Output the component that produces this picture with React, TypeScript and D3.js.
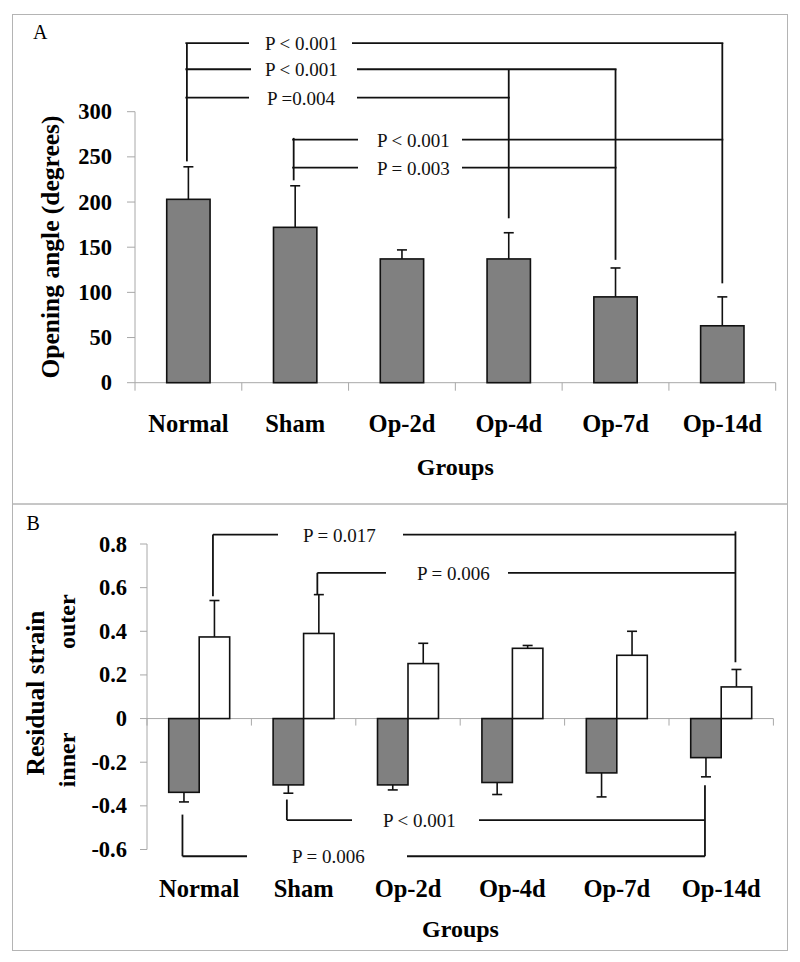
import React from "react";
import * as d3 from "d3";

const groups = ["Normal", "Sham", "Op-2d", "Op-4d", "Op-7d", "Op-14d"];
const angleMean = [203, 172, 137, 137, 95, 63];
const angleErr = [36, 46, 10, 29, 32, 32];
const angleTicks = [0, 50, 100, 150, 200, 250, 300];

const innerMean = [-0.338, -0.304, -0.304, -0.293, -0.249, -0.179];
const innerErr = [0.044, 0.038, 0.023, 0.055, 0.11, 0.088];
const outerMean = [0.374, 0.39, 0.252, 0.322, 0.29, 0.145];
const outerErr = [0.167, 0.178, 0.093, 0.013, 0.11, 0.08];
const strainTicks = [-0.6, -0.4, -0.2, 0, 0.2, 0.4, 0.6, 0.8];

const bracketsA = [
  { from: "Normal", to: "Op-14d", level: 376, label: "P < 0.001", fromTop: 376, fromBottom: 245, toTop: 376, toBottom: 110 },
  { from: "Normal", to: "Op-7d", level: 347, label: "P < 0.001", toTop: 347, toBottom: 136 },
  { from: "Normal", to: "Op-4d", level: 315.5, label: "P =0.004", toTop: 347, toBottom: 182 },
  { from: "Sham", to: "Op-14d", level: 269, label: "P < 0.001", fromTop: 271, fromBottom: 224 },
  { from: "Sham", to: "Op-7d", level: 238, label: "P = 0.003" },
];
const bracketsB = [
  { from: "Normal", to: "Op-14d", series: "outer", level: 0.843, label: "P = 0.017", fromTop: 0.843, fromBottom: 0.56, toTop: 0.858, toBottom: 0.258 },
  { from: "Sham", to: "Op-14d", series: "outer", level: 0.668, label: "P = 0.006", fromTop: 0.668, fromBottom: 0.568 },
  { from: "Sham", to: "Op-14d", series: "inner", level: -0.465, label: "P < 0.001", fromTop: -0.371, fromBottom: -0.465, toTop: -0.306, toBottom: -0.631 },
  { from: "Normal", to: "Op-14d", series: "inner", level: -0.631, label: "P = 0.006", fromTop: -0.44, fromBottom: -0.631 },
];

// label layout (pixel gap positions)
const layoutA = [
  { gapL: 249, textX: 265, gapR: 352 },
  { gapL: 251, textX: 265, gapR: 357 },
  { gapL: 249, textX: 267, gapR: 357 },
  { gapL: 358, textX: 377, gapR: 462 },
  { gapL: 358, textX: 377, gapR: 462 },
];
const layoutB = [
  { gapL: 278, textX: 303, gapR: 403 },
  { gapL: 386, textX: 417, gapR: 508 },
  { gapL: 352, textX: 383, gapR: 479 },
  { gapL: 247, textX: 292, gapR: 407 },
];

const SERIF = '"Liberation Serif", "Times New Roman", serif';
const AXIS = "#a8a8a8";
const INK = "#111";

export default function App() {
  // Panel A scales
  const xA = d3.scaleBand().domain(groups).range([135, 775.7]);
  const yA = d3.scaleLinear().domain([0, 300]).range([382.7, 111.7]);
  const bwA = xA.bandwidth() * 0.406;
  const cA = (g: string) => (xA(g) as number) + xA.bandwidth() / 2;

  // Panel B scales
  const xB = d3.scaleBand().domain(groups).range([147, 773.4]);
  const yB = d3.scaleLinear().domain([-0.6, 0.8]).range([849.5, 544]);
  const bwB = xB.bandwidth() * 0.292;
  const cB = (g: string, s: string) =>
    (xB(g) as number) + xB.bandwidth() / 2 + (s === "outer" ? bwB / 2 : -bwB / 2);

  const capW = 10;

  return (
    <svg
      width={800}
      height={962}
      style={{ position: "absolute", left: 0, top: 0, background: "#fff" }}
      fontFamily={SERIF}
    >
      <rect x={0} y={0} width={800} height={962} fill="#fff" />
      {/* frames */}
      <rect x={12.5} y={14.5} width={775} height={489.5} fill="none" stroke="#b4b4b4" strokeWidth={1} />
      <rect x={12.5} y={504} width={775} height={446.5} fill="none" stroke="#b4b4b4" strokeWidth={1} />

      {/* ===== Panel A ===== */}
      <text x={33} y={38.5} fontSize={20}>A</text>
      {/* y axis */}
      <line x1={135} x2={135} y1={yA(300)} y2={yA(0)} stroke={AXIS} />
      {angleTicks.map((t) => (
        <g key={"ta" + t}>
          <line x1={127} x2={135} y1={yA(t)} y2={yA(t)} stroke={AXIS} />
          <text x={112} y={yA(t) + 7.5} fontSize={22.5} fontWeight="bold" textAnchor="end">{t}</text>
        </g>
      ))}
      <text
        transform={`translate(58.5,247) rotate(-90)`}
        fontSize={25.5}
        fontWeight="bold"
        textAnchor="middle"
      >
        Opening angle (degrees)
      </text>
      {/* x axis */}
      <line x1={135} x2={775.7} y1={yA(0)} y2={yA(0)} stroke={AXIS} />
      {[...groups.map((g) => xA(g) as number), 775.7].map((x, i) => (
        <line key={"xa" + i} x1={x} x2={x} y1={yA(0)} y2={yA(0) + 8} stroke={AXIS} />
      ))}
      {groups.map((g) => (
        <text key={"la" + g} x={cA(g)} y={432} fontSize={24.5} fontWeight="bold" textAnchor="middle">{g}</text>
      ))}
      <text x={455.3} y={475} fontSize={24} fontWeight="bold" textAnchor="middle">Groups</text>
      {/* bars */}
      {groups.map((g, i) => (
        <g key={"ba" + g}>
          <line x1={cA(g)} x2={cA(g)} y1={yA(angleMean[i])} y2={yA(angleMean[i] + angleErr[i])} stroke={INK} strokeWidth={1.6} />
          <line x1={cA(g) - capW / 2} x2={cA(g) + capW / 2} y1={yA(angleMean[i] + angleErr[i])} y2={yA(angleMean[i] + angleErr[i])} stroke={INK} strokeWidth={1.6} />
          <rect
            x={cA(g) - bwA / 2}
            y={yA(angleMean[i])}
            width={bwA}
            height={yA(0) - yA(angleMean[i])}
            fill="#808080"
            stroke={INK}
            strokeWidth={1.6}
          />
        </g>
      ))}
      {/* brackets A */}
      {bracketsA.map((b, i) => {
        const L = layoutA[i];
        const y = yA(b.level);
        const x0 = cA(b.from) - 1.5;
        const x1 = cA(b.to);
        return (
          <g key={"bra" + i} stroke={INK} strokeWidth={1.8}>
            <line x1={x0 - 1.5} x2={L.gapL} y1={y} y2={y} />
            <line x1={L.gapR} x2={x1 + 1} y1={y} y2={y} />
            {b.fromTop !== undefined && (
              <line x1={x0} x2={x0} y1={yA(b.fromTop)} y2={yA(b.fromBottom as number)} />
            )}
            {b.toTop !== undefined && (
              <line x1={x1} x2={x1} y1={yA(b.toTop)} y2={yA(b.toBottom as number)} />
            )}
            <text x={L.textX} y={y + 7} fontSize={19} stroke="none" fill={INK}>{b.label}</text>
          </g>
        );
      })}

      {/* ===== Panel B ===== */}
      <text x={26.5} y={530} fontSize={20}>B</text>
      <line x1={147} x2={147} y1={yB(0.8)} y2={yB(-0.6)} stroke={AXIS} />
      {strainTicks.map((t) => (
        <g key={"tb" + t}>
          <line x1={140} x2={147} y1={yB(t)} y2={yB(t)} stroke={AXIS} />
          <text x={127} y={yB(t) + 7.5} fontSize={22.5} fontWeight="bold" textAnchor="end">
            {t === 0 ? "0" : d3.format(".1f")(t).replace("−", "-")}
          </text>
        </g>
      ))}
      <text transform={`translate(43.5,693) rotate(-90)`} fontSize={25.5} fontWeight="bold" textAnchor="middle">
        Residual strain
      </text>
      <text transform={`translate(75,621.7) rotate(-90)`} fontSize={24} fontWeight="bold" textAnchor="middle">
        outer
      </text>
      <text transform={`translate(75,760) rotate(-90)`} fontSize={24} fontWeight="bold" textAnchor="middle">
        inner
      </text>
      <line x1={147} x2={773.4} y1={yB(0)} y2={yB(0)} stroke={AXIS} />
      {[...groups.map((g) => xB(g) as number), 773.4].map((x, i) => (
        <line key={"xb" + i} x1={x} x2={x} y1={yB(0)} y2={yB(0) + 7} stroke={AXIS} />
      ))}
      {groups.map((g) => (
        <text key={"lb" + g} x={(xB(g) as number) + xB.bandwidth() / 2} y={896.5} fontSize={24.5} fontWeight="bold" textAnchor="middle">{g}</text>
      ))}
      <text x={460.5} y={936.5} fontSize={24} fontWeight="bold" textAnchor="middle">Groups</text>
      {groups.map((g, i) => {
        const xi = cB(g, "inner");
        const xo = cB(g, "outer");
        return (
          <g key={"bb" + g}>
            <line x1={xi} x2={xi} y1={yB(innerMean[i])} y2={yB(innerMean[i] - innerErr[i])} stroke={INK} strokeWidth={1.6} />
            <line x1={xi - capW / 2} x2={xi + capW / 2} y1={yB(innerMean[i] - innerErr[i])} y2={yB(innerMean[i] - innerErr[i])} stroke={INK} strokeWidth={1.6} />
            <line x1={xo} x2={xo} y1={yB(outerMean[i])} y2={yB(outerMean[i] + outerErr[i])} stroke={INK} strokeWidth={1.6} />
            <line x1={xo - capW / 2} x2={xo + capW / 2} y1={yB(outerMean[i] + outerErr[i])} y2={yB(outerMean[i] + outerErr[i])} stroke={INK} strokeWidth={1.6} />
            <rect x={xi - bwB / 2} y={yB(0)} width={bwB} height={yB(innerMean[i]) - yB(0)} fill="#808080" stroke={INK} strokeWidth={1.6} />
            <rect x={xo - bwB / 2} y={yB(outerMean[i])} width={bwB} height={yB(0) - yB(outerMean[i])} fill="#fff" stroke={INK} strokeWidth={1.6} />
          </g>
        );
      })}
      {bracketsB.map((b, i) => {
        const L = layoutB[i];
        const y = yB(b.level);
        const x0 = cB(b.from, b.series) - 1.5;
        const x1 = cB(b.to, b.series) - 1;
        return (
          <g key={"brb" + i} stroke={INK} strokeWidth={1.8}>
            <line x1={x0} x2={L.gapL} y1={y} y2={y} />
            <line x1={L.gapR} x2={x1} y1={y} y2={y} />
            {b.fromTop !== undefined && (
              <line x1={x0} x2={x0} y1={yB(b.fromTop)} y2={yB(b.fromBottom as number)} />
            )}
            {b.toTop !== undefined && (
              <line x1={x1} x2={x1} y1={yB(b.toTop)} y2={yB(b.toBottom as number)} />
            )}
            <text x={L.textX} y={y + 7} fontSize={19} stroke="none" fill={INK}>{b.label}</text>
          </g>
        );
      })}
    </svg>
  );
}
